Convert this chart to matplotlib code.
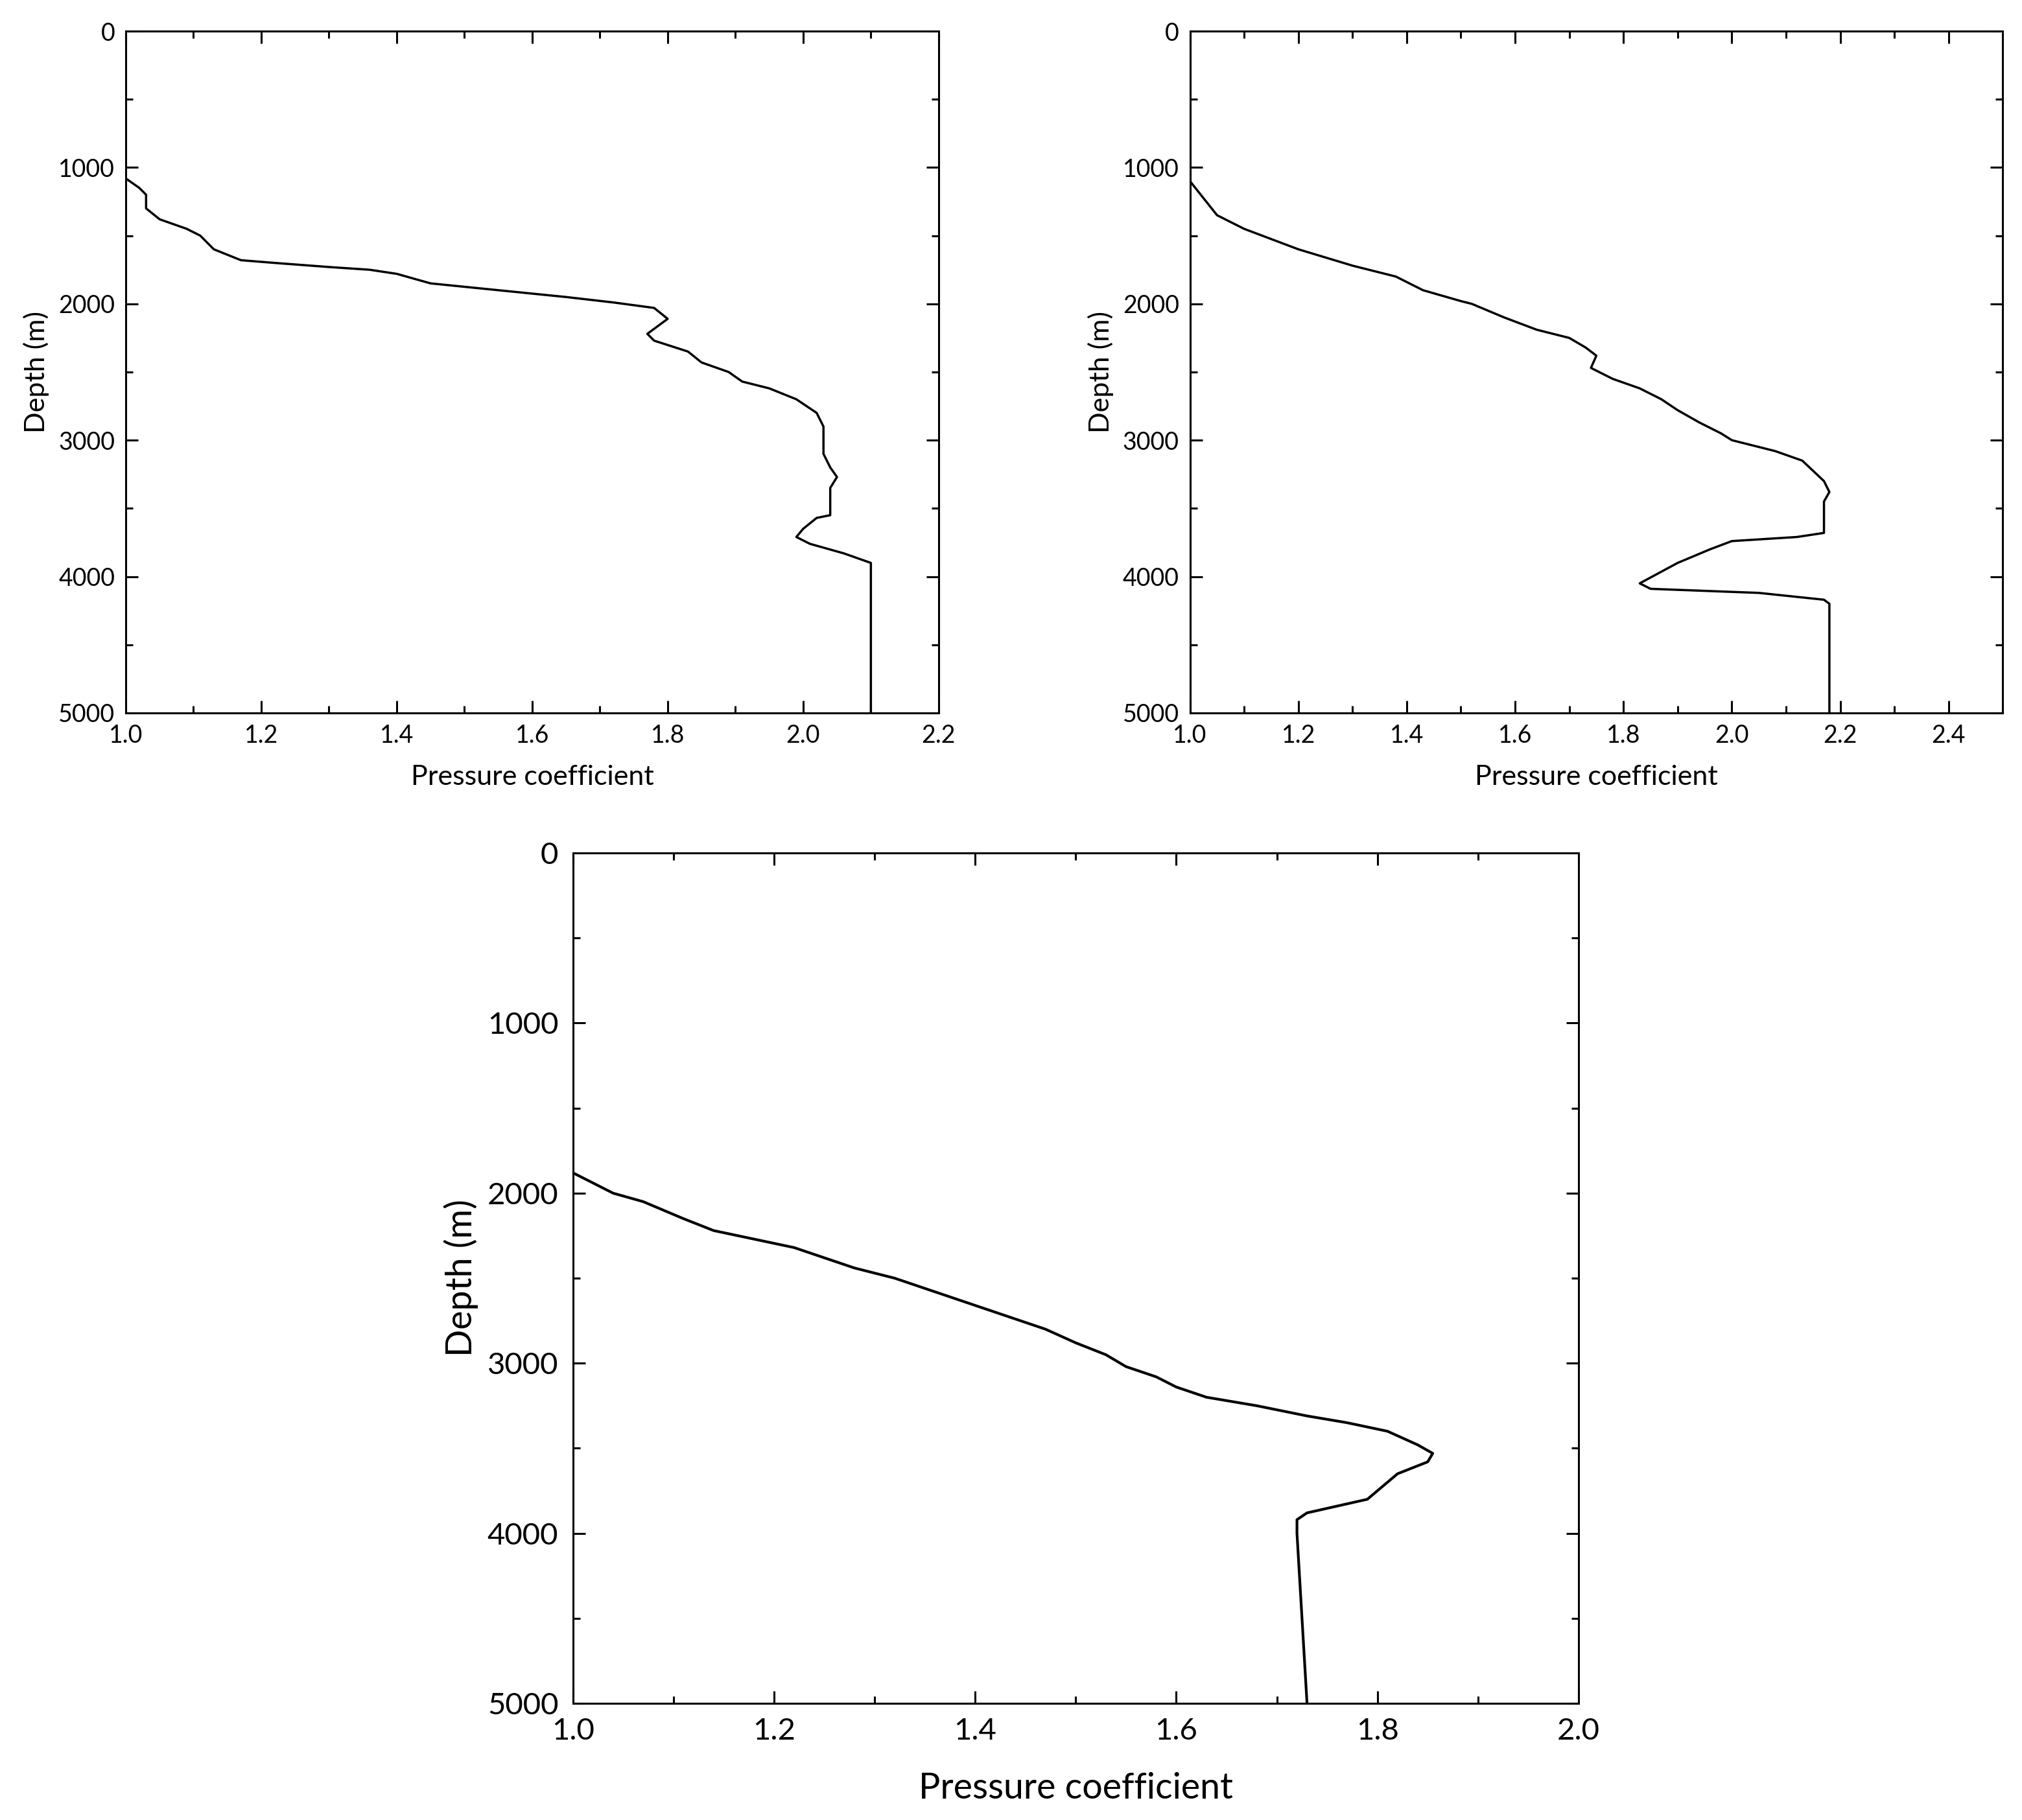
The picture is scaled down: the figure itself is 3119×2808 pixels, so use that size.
import matplotlib
matplotlib.use("Agg")
import matplotlib.pyplot as plt
from matplotlib.ticker import MultipleLocator

plt.rcParams['font.family'] = ['Lato', 'DejaVu Sans']

x1 = [1.0,1.02,1.03,1.03,1.05,1.09,1.11,1.13,1.17,1.22,1.3,1.36,1.4,1.45,1.55,1.65,1.72,1.78,1.80,1.77,1.78,1.83,1.85,1.89,1.91,1.95,1.99,2.02,2.03,2.03,2.04,2.05,2.04,2.04,2.02,2.00,1.99,2.01,2.06,2.10,2.10,2.10]
d1 = [1080,1150,1200,1300,1380,1450,1500,1600,1680,1700,1730,1750,1780,1850,1900,1950,1990,2030,2110,2220,2270,2350,2430,2500,2570,2620,2700,2800,2900,3100,3200,3270,3350,3550,3570,3650,3710,3760,3830,3900,4000,5000]

x2 = [1.0,1.02,1.05,1.10,1.2,1.3,1.38,1.43,1.5,1.52,1.58,1.64,1.70,1.73,1.75,1.74,1.78,1.83,1.87,1.90,1.94,1.98,2.00,2.08,2.13,2.17,2.18,2.17,2.17,2.12,2.0,1.96,1.9,1.83,1.85,2.05,2.17,2.18,2.18]
d2 = [1100,1200,1350,1450,1600,1720,1800,1900,1980,2000,2100,2190,2250,2320,2380,2470,2550,2620,2700,2780,2870,2950,3000,3080,3150,3300,3380,3450,3680,3710,3740,3800,3900,4050,4090,4120,4170,4200,5000]

x3 = [1.0,1.04,1.07,1.11,1.14,1.22,1.28,1.32,1.36,1.40,1.44,1.47,1.50,1.53,1.55,1.58,1.60,1.63,1.68,1.73,1.77,1.81,1.84,1.855,1.85,1.82,1.81,1.79,1.76,1.73,1.72,1.72,1.73]
d3 = [1880,2000,2050,2150,2220,2320,2440,2500,2580,2660,2740,2800,2880,2950,3020,3080,3140,3200,3250,3310,3350,3400,3480,3530,3580,3650,3700,3800,3840,3880,3920,4000,5000]

fig = plt.figure(figsize=(31.19, 28.08), dpi=100)

def setup(ax, x, d, xlim, xstep, fs_tick, fs_lab, lw, pad, lpad):
    ax.plot(x, d, color='black', lw=lw)
    ax.set_xlim(*xlim)
    ax.set_ylim(5000, 0)
    ax.xaxis.set_major_locator(MultipleLocator(xstep))
    ax.yaxis.set_major_locator(MultipleLocator(1000))
    ax.yaxis.set_minor_locator(MultipleLocator(500))
    ax.xaxis.set_minor_locator(MultipleLocator(xstep/2))
    ax.xaxis.set_major_formatter(matplotlib.ticker.FormatStrFormatter('%.1f'))
    ax.tick_params(which='both', direction='in', top=True, right=True, labelsize=fs_tick, width=2.2, pad=pad)
    ax.tick_params(which='major', length=14)
    ax.tick_params(which='minor', length=8)
    for s in ax.spines.values():
        s.set_linewidth(2.2)
    ax.set_xlabel('Pressure coefficient', fontsize=fs_lab, labelpad=lpad)
    ax.set_ylabel('Depth (m)', fontsize=fs_lab, labelpad=10)

ax1 = fig.add_axes([0.0622, 0.6083, 0.402, 0.3746])
setup(ax1, x1, d1, (1.0, 2.2), 0.2, 27, 31, 2.5, 12, 20)
ax2 = fig.add_axes([0.5885, 0.6083, 0.402, 0.3746])
setup(ax2, x2, d2, (1.0, 2.5), 0.2, 27, 31, 2.5, 12, 20)
ax2.set_xticks([1.0,1.2,1.4,1.6,1.8,2.0,2.2,2.4])
ax3 = fig.add_axes([0.2833, 0.0641, 0.4974, 0.4672])
setup(ax3, x3, d3, (1.0, 2.0), 0.2, 34, 40, 3, 16, 30)

fig.savefig('out.png', dpi=100)
